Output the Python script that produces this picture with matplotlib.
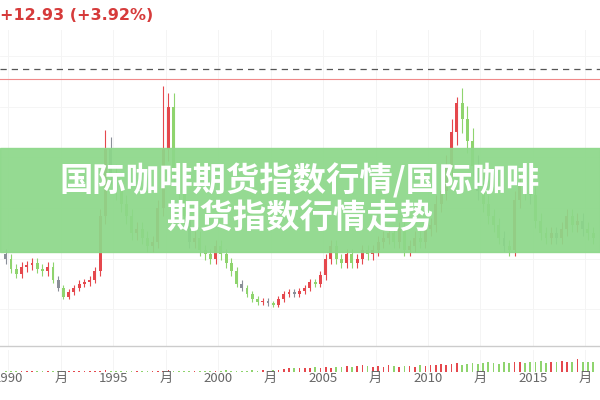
import numpy as np
import matplotlib.pyplot as plt
from matplotlib.patches import Rectangle

plt.rcParams['font.family'] = ['Noto Sans CJK SC', 'DejaVu Sans']

# quarterly closes, US cents/lb, starting 1989 Q4
closes = [100,
          88, 82, 90, 92, 95, 88, 85, 90, 75, 65, 55, 60, 65, 70, 72, 75,
          85, 150, 230, 200, 180, 165, 150, 130, 135, 125, 115, 120,
          160, 230, 280, 200, 180, 150, 120, 125, 110, 105, 100, 115,
          105, 95, 85, 70, 65, 58, 52, 48, 50, 47, 45, 52, 58, 60, 58, 62,
          65, 72, 70, 80, 100, 115, 100, 95, 105, 95, 100, 110,
          105, 110, 120, 125, 130, 120, 135, 110, 115, 125, 120, 135,
          140, 165, 180, 210, 250, 285, 265, 240, 210, 180, 165, 150,
          140, 125, 115, 110, 170, 190, 180, 175, 145, 130, 125, 130,
          125, 135, 150, 140, 145, 135, 130, 125]
# the three big spikes (quarter index, high)
spike_highs = [(19, 253), (30, 305), (86, 292)]
volumes = [1,
           1, 1, 1, 1,  1, 1, 1, 1,  1, 1, 1, 2,  1, 1, 2, 2,
           2, 2, 3, 2,  2, 2, 2, 2,  2, 1, 2, 2,  2, 2, 3, 2,
           2, 2, 2, 2,  2, 2, 2, 2,  2, 3, 2, 2,  2, 2, 3, 2,
           3, 2, 3, 3,  4, 5, 6, 5,  5, 6, 7, 6,  7, 6, 7, 7,
           8, 7, 8, 9,  8, 7, 8, 7,  9, 8, 7, 8,  8, 7, 9, 8,
           9, 10, 11, 10,  11, 12, 10, 11,  12, 11, 12, 13,  12, 11, 13, 12,
           14, 13, 12, 14,  13, 15, 12, 14,  13, 15, 14, 13,  18, 14, 13, 14]
year_labels = ['1990', '月', '1995', '月', '2000', '月', '2005', '月', '2010', '月', '2015', '月']
year_pos = [1990, 1992.5, 1995, 1997.5, 2000, 2002.5, 2005, 2007.5, 2010, 2012.5, 2015, 2017.5]

red, green, gray = '#e5484d', '#8fd46e', '#8a8f98'

fig = plt.figure(figsize=(6, 4), dpi=100)
ax = fig.add_axes([0, 0.135, 1, 0.79])
vax = fig.add_axes([0, 0.07, 1, 0.055])

x = 1989.75 + 0.125 + 0.25 * np.arange(len(closes))
for i in range(len(closes)):
    o = closes[i - 1] if i > 0 else closes[0] * 1.05
    c = closes[i]
    col = red if c >= o else (gray if i % 5 == 0 else green)
    hi = max(o, c) * 1.06
    lo = min(o, c) * 0.94
    for j, h in spike_highs:
        if j == i:
            hi = h
    ax.vlines(x[i], lo, hi, color=col, lw=0.8)
    ax.bar(x[i], max(abs(c - o), 1), bottom=min(o, c), width=0.14, color=col)
    vax.bar(x[i], volumes[i], width=0.08, color=red if c >= o else green)

ax.set_xlim(1989.6, 2018.2)
ax.set_ylim(-3.6, 371)
vax.set_xlim(1989.6, 2018.2)
vax.set_ylim(0, 30)
for a in (ax, vax):
    a.axis('off')
    for p in year_pos:
        a.axvline(p, color='#f2f2f2', lw=0.6, zorder=0)
for yy in np.arange(40, 360, 60):
    ax.axhline(yy, color='#f4f4f4', lw=0.6, zorder=0)

ax.axhline(325, color='#555555', lw=0.9, ls=(0, (5, 4)))
ax.axhline(313, color='#f08a8a', lw=0.8)
fig.add_artist(plt.Line2D([0, 1], [0.135, 0.135], color='#cccccc', lw=1))

for p, lab in zip(year_pos, year_labels):
    fig.text((p - 1989.6) / (2018.2 - 1989.6), 0.055, lab, ha='center', va='center',
             fontsize=9.5, color='#666666')

fig.text(0.0, 0.962, '+12.93 (+3.92%)', ha='left', va='center', fontsize=11.5,
         color='#d63b3b', fontweight='bold', family=['DejaVu Sans'])

fig.add_artist(Rectangle((0, 0.37), 1, 0.26, transform=fig.transFigure,
                         color='#8dd88a', alpha=0.93, zorder=5))
fig.text(0.5, 0.548, '国际咖啡期货指数行情/国际咖啡', ha='center', va='center',
         fontsize=24, color='white', fontweight='bold', zorder=6)
fig.text(0.5, 0.453, '期货指数行情走势', ha='center', va='center',
         fontsize=24, color='white', fontweight='bold', zorder=6)

fig.savefig('out.png')
